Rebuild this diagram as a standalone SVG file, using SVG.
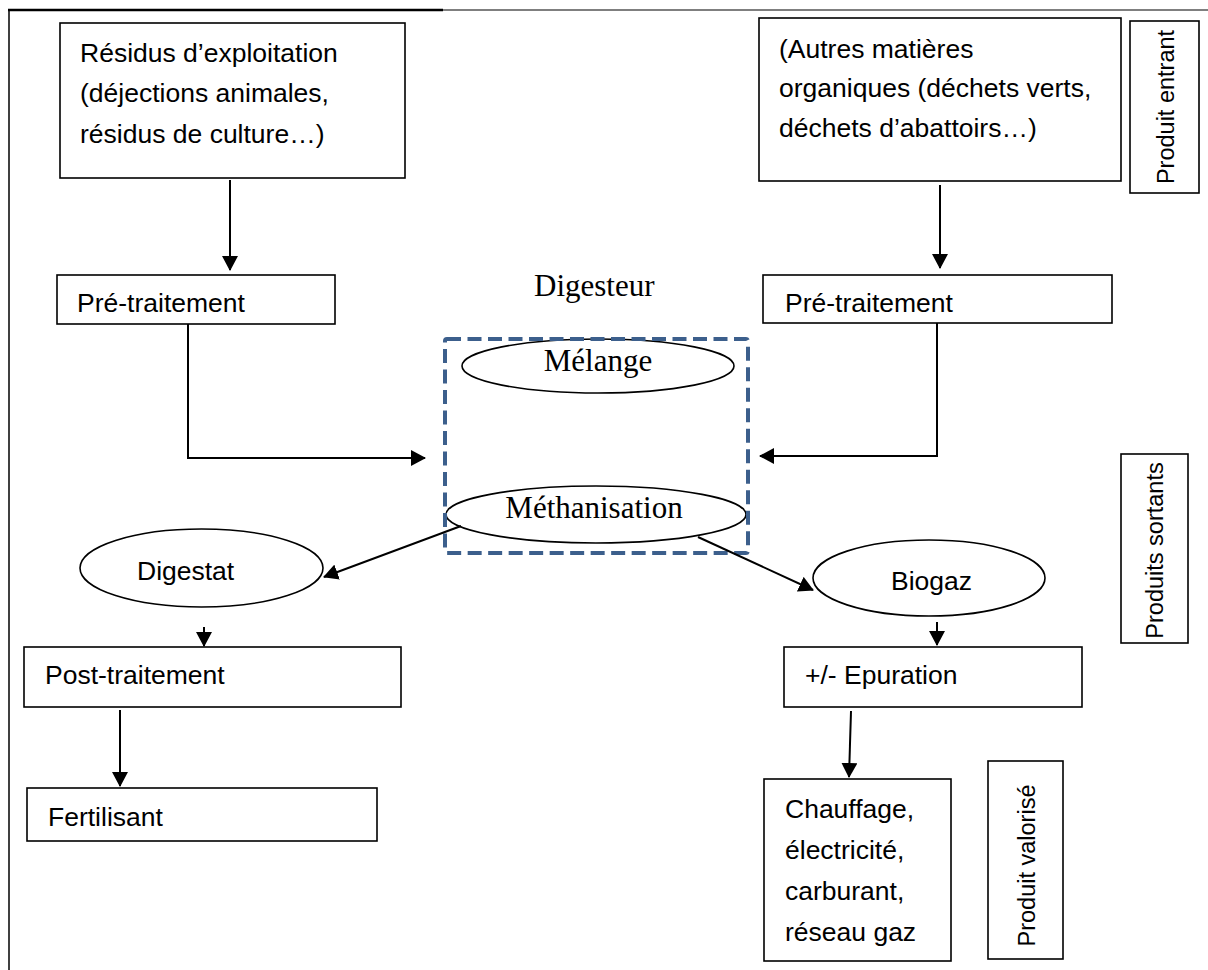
<svg xmlns="http://www.w3.org/2000/svg" width="1208" height="970" viewBox="0 0 1208 970">
<defs>
<marker id="ah" markerUnits="userSpaceOnUse" markerWidth="16" markerHeight="16" refX="14" refY="8" orient="auto">
<path d="M0,0 L15,8 L0,16 z" fill="#000"/>
</marker>
<style>
.box{fill:#fff;stroke:#000;stroke-width:1.6}
.ell{fill:#fff;stroke:#000;stroke-width:1.6}
.t{font-family:"Liberation Sans",Arial,sans-serif;font-size:26.5px;fill:#000}
.s{font-family:"Liberation Serif","Times New Roman",serif;font-size:31px;fill:#000}
.r{font-family:"Liberation Sans",Arial,sans-serif;font-size:23.5px;fill:#000;text-anchor:middle}
.c{fill:none;stroke:#000;stroke-width:2}
</style>
</defs>
<rect width="1208" height="970" fill="#fff"/>
<g id="frame">
<path d="M8,10 H443" stroke="#000" stroke-width="2.5"/>
<path d="M443,10 H1208" stroke="#7f7f7f" stroke-width="2"/>
<path d="M9,10 V970" stroke="#000" stroke-width="1.5"/>
</g>
<g id="n-residus">
<rect class="box" x="60" y="23" width="345" height="155"/>
<text class="t" x="80" y="62">Résidus d’exploitation</text>
<text class="t" x="80" y="102">(déjections animales,</text>
<text class="t" x="80" y="143">résidus de culture…)</text>
</g>
<g id="n-autres">
<rect class="box" x="759" y="18" width="362" height="163"/>
<text class="t" x="779" y="58">(Autres matières</text>
<text class="t" x="779" y="97">organiques (déchets verts,</text>
<text class="t" x="779" y="137">déchets d’abattoirs…)</text>
</g>
<g id="n-entrant">
<rect class="box" x="1130" y="21" width="69" height="172"/>
<text class="r" transform="translate(1174,107) rotate(-90)">Produit entrant</text>
</g>
<g id="n-pretrait-l">
<rect class="box" x="57" y="275" width="278" height="49"/>
<text class="t" x="77" y="312">Pré-traitement</text>
</g>
<g id="n-pretrait-r">
<rect class="box" x="763" y="275" width="349" height="48"/>
<text class="t" x="785" y="312">Pré-traitement</text>
</g>
<g id="n-digesteur">
<text class="s" x="534" y="296">Digesteur</text>
<ellipse class="ell" cx="598" cy="366" rx="136" ry="27"/>
<text class="s" x="598" y="371" text-anchor="middle">Mélange</text>
<ellipse class="ell" cx="596" cy="514.5" rx="150" ry="28.5"/>
<text class="s" x="594" y="518" text-anchor="middle">Méthanisation</text>
<rect x="445" y="339" width="303" height="214" rx="2" fill="none" stroke="#3c5f8c" stroke-width="4" stroke-dasharray="14 6.5"/>
</g>
<g id="n-digestat">
<ellipse class="ell" cx="201.5" cy="568" rx="121.5" ry="39"/>
<text class="t" x="137" y="580">Digestat</text>
</g>
<g id="n-biogaz">
<ellipse class="ell" cx="929" cy="578" rx="116" ry="38"/>
<text class="t" x="891" y="590">Biogaz</text>
</g>
<g id="n-sortants">
<rect class="box" x="1121" y="454" width="67" height="189"/>
<text class="r" transform="translate(1163,550.5) rotate(-90)">Produits sortants</text>
</g>
<g id="n-posttrait">
<rect class="box" x="24" y="647" width="377" height="60"/>
<text class="t" x="45" y="684">Post-traitement</text>
</g>
<g id="n-fertilisant">
<rect class="box" x="27" y="788" width="350" height="53"/>
<text class="t" x="48" y="826">Fertilisant</text>
</g>
<g id="n-epuration">
<rect class="box" x="784" y="647" width="298" height="60"/>
<text class="t" x="805" y="684">+/- Epuration</text>
</g>
<g id="n-chauffage">
<rect class="box" x="764" y="779" width="187" height="182"/>
<text class="t" x="785" y="818">Chauffage,</text>
<text class="t" x="785" y="859">électricité,</text>
<text class="t" x="785" y="900">carburant,</text>
<text class="t" x="785" y="941">réseau gaz</text>
</g>
<g id="n-valorise">
<rect class="box" x="988" y="761" width="75" height="198"/>
<text class="r" transform="translate(1035,865.5) rotate(-90)">Produit valorisé</text>
</g>
<g id="connectors">
<path class="c" d="M230,180 V270" marker-end="url(#ah)"/>
<path class="c" d="M940,185 V268" marker-end="url(#ah)"/>
<path class="c" d="M188,324 V458 H425" marker-end="url(#ah)"/>
<path class="c" d="M937,323 V456 H760" marker-end="url(#ah)"/>
<path class="c" d="M461,526 L324,577" marker-end="url(#ah)"/>
<path class="c" d="M698,537 L813,590" marker-end="url(#ah)"/>
<path class="c" d="M204,627 V646" marker-end="url(#ah)"/>
<path class="c" d="M937,622 V645" marker-end="url(#ah)"/>
<path class="c" d="M120,710 V786" marker-end="url(#ah)"/>
<path class="c" d="M851,711 L849,777" marker-end="url(#ah)"/>
</g>
</svg>
